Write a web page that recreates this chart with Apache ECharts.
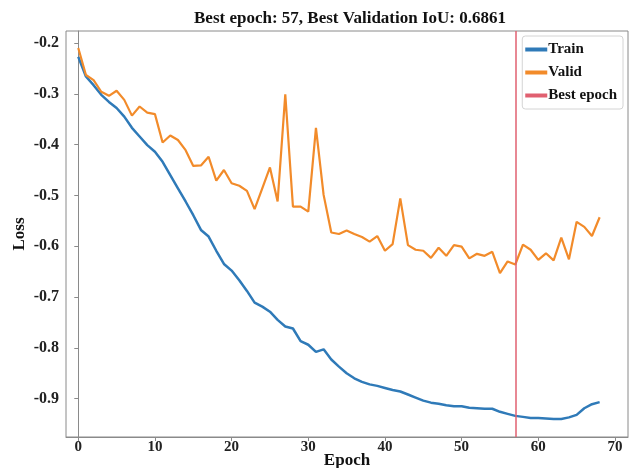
<!DOCTYPE html>
<html>
<head>
<meta charset="utf-8">
<script src="https://cdn.jsdelivr.net/npm/echarts@6/dist/echarts.min.js"></script>
<style>
  html, body { margin: 0; padding: 0; background: #fff; }
  #chart { width: 634px; height: 468px; }
</style>
</head>
<body>
<div id="chart"></div>
<script>
// loss per epoch
const epochs = Array.from({ length: 69 }, (_, i) => i)

const trainLoss = [
  -0.227, -0.266, -0.283, -0.302, -0.316, -0.328, -0.345, -0.367, -0.384, -0.401,
  -0.414, -0.434, -0.460, -0.486, -0.512, -0.539, -0.568, -0.581, -0.609, -0.635,
  -0.648, -0.667, -0.688, -0.711, -0.719, -0.729, -0.745, -0.758, -0.762, -0.787,
  -0.794, -0.808, -0.803, -0.823, -0.837, -0.850, -0.860, -0.867, -0.872, -0.875,
  -0.879, -0.883, -0.886, -0.892, -0.898, -0.904, -0.908, -0.910, -0.913, -0.915,
  -0.915, -0.918, -0.919, -0.920, -0.920, -0.926, -0.930, -0.934, -0.936, -0.938,
  -0.938, -0.939, -0.940, -0.940, -0.937, -0.932, -0.919, -0.911, -0.907
]

const validLoss = [
  -0.210, -0.263, -0.273, -0.296, -0.304, -0.294, -0.312, -0.343, -0.325, -0.337,
  -0.340, -0.396, -0.382, -0.391, -0.411, -0.442, -0.441, -0.424, -0.471, -0.450,
  -0.476, -0.481, -0.491, -0.527, -0.486, -0.445, -0.512, -0.301, -0.522, -0.522,
  -0.532, -0.367, -0.499, -0.573, -0.576, -0.569, -0.576, -0.582, -0.591, -0.580,
  -0.609, -0.596, -0.506, -0.598, -0.607, -0.609, -0.623, -0.603, -0.619, -0.598,
  -0.601, -0.624, -0.615, -0.619, -0.611, -0.653, -0.630, -0.636, -0.597, -0.607,
  -0.627, -0.614, -0.628, -0.583, -0.626, -0.552, -0.562, -0.580, -0.543
]

const bestEpoch = 57
const bestIoU = '0.6861'

const xTicks = [0, 10, 20, 30, 40, 50, 60, 70]
const yTicks = [-0.9, -0.8, -0.7, -0.6, -0.5, -0.4, -0.3, -0.2]

const FONT = '"Liberation Serif", "DejaVu Serif", serif'
const frameColor = '#8a8a8a'
const nameStyle = { fontFamily: FONT, fontWeight: 'bold', fontSize: 17, fill: '#111' }

const chart = echarts.init(document.getElementById('chart'))

const option = {
  animation: false,
  title: {
    text: `Best epoch: ${bestEpoch}, Best Validation IoU: ${bestIoU}`,
    left: 345,
    textAlign: 'center',
    top: 5,
    textStyle: { fontFamily: FONT, fontWeight: 'bold', fontSize: 17, color: '#111' }
  },
  // axis titles placed by hand, the axis name option pushes them past the labels
  graphic: [
    {
      type: 'text', x: 347, y: 461,
      style: Object.assign({ text: 'Epoch', align: 'center', verticalAlign: 'middle' }, nameStyle)
    },
    {
      type: 'text', x: 20, y: 234, rotation: Math.PI / 2,
      style: Object.assign({ text: 'Loss', align: 'center', verticalAlign: 'middle' }, nameStyle)
    }
  ],
  legend: {
    right: 11,
    top: 36,
    orient: 'vertical',
    itemWidth: 22,
    itemHeight: 4,
    itemGap: 8,
    padding: [6, 6, 6, 3],
    borderColor: '#d4d4d4',
    borderWidth: 1,
    borderRadius: 3,
    backgroundColor: '#fff',
    textStyle: { fontFamily: FONT, fontWeight: 'bold', fontSize: 15, color: '#111', padding: [0, 0, 0, -4] },
    data: [
      { name: 'Train', icon: 'rect' },
      { name: 'Valid', icon: 'rect' },
      { name: 'Best epoch', icon: 'rect' }
    ]
  },
  grid: {
    left: 66,
    right: 6,
    top: 31,
    bottom: 31,
    outerBoundsMode: 'none',
    show: true,
    borderColor: frameColor,
    borderWidth: 1
  },
  xAxis: {
    type: 'value',
    min: -1.6,
    max: 71.7,
    axisLine: { show: true, lineStyle: { color: frameColor } },
    axisTick: { show: true, length: 4, lineStyle: { color: frameColor }, customValues: xTicks },
    axisLabel: {
      customValues: xTicks,
      margin: 3,
      fontFamily: FONT, fontWeight: 'bold', fontSize: 15, color: '#222'
    },
    splitLine: { show: false }
  },
  yAxis: {
    type: 'value',
    min: -0.9756,
    max: -0.1764,
    axisLine: { show: true, lineStyle: { color: frameColor } },
    axisTick: { show: true, length: 4, lineStyle: { color: frameColor }, customValues: yTicks },
    axisLabel: {
      customValues: yTicks,
      margin: 7,
      formatter: v => v.toFixed(1),
      fontFamily: FONT, fontWeight: 'bold', fontSize: 16, color: '#222'
    },
    splitLine: { show: false }
  },
  series: [
    {
      name: 'Train',
      type: 'line',
      data: epochs.map((e, i) => [e, trainLoss[i]]),
      showSymbol: false,
      color: '#2f7ab8',
      lineStyle: { width: 2.5, color: '#2f7ab8' }
    },
    {
      name: 'Valid',
      type: 'line',
      data: epochs.map((e, i) => [e, validLoss[i]]),
      showSymbol: false,
      color: '#f28b2a',
      lineStyle: { width: 2.2, color: '#f28b2a' }
    },
    {
      name: 'Best epoch',
      type: 'line',
      data: [],
      color: '#e06070',
      markLine: {
        silent: true,
        symbol: 'none',
        label: { show: false },
        lineStyle: { color: '#e06070', width: 1.5, type: 'solid' },
        data: [{ xAxis: bestEpoch }]
      }
    }
  ]
}

chart.setOption(option)
</script>
</body>
</html>
